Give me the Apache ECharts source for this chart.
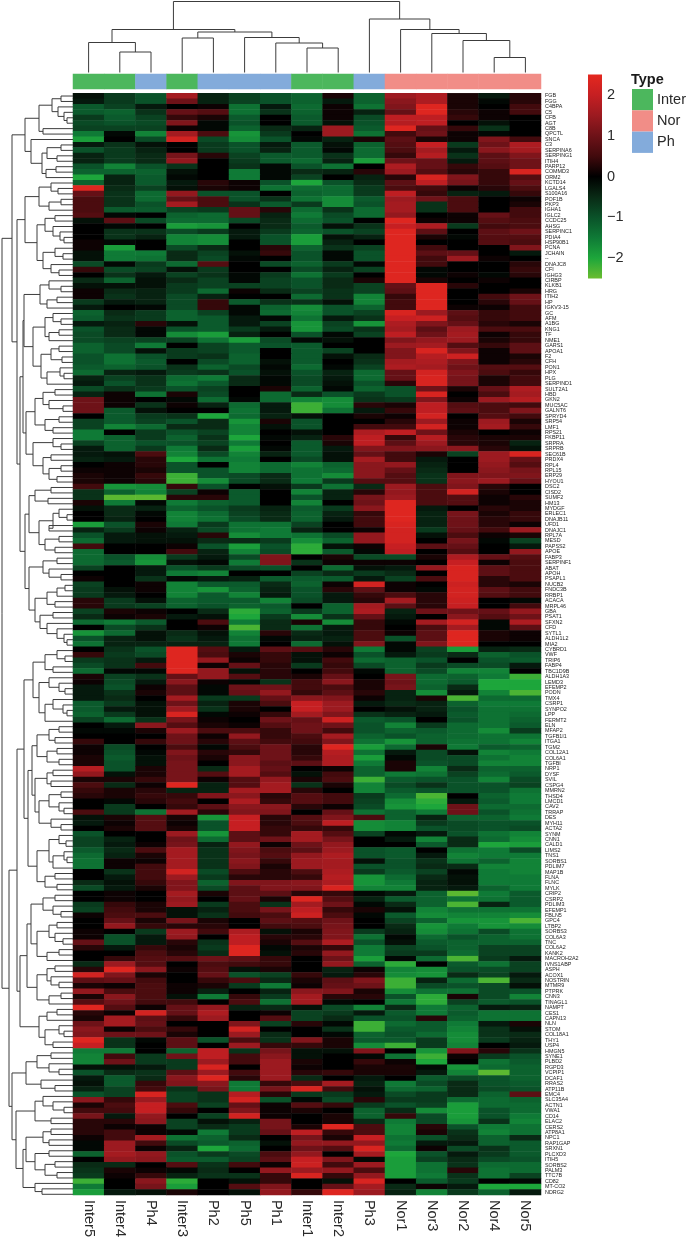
<!DOCTYPE html>
<html>
<head>
<meta charset="utf-8">
<title>Heatmap</title>
<script src="https://cdn.jsdelivr.net/npm/echarts@6/dist/echarts.min.js"></script>
<style>
	html, body { margin: 0; padding: 0; background: #fff; }
	#chart { width: 688px; height: 1240px; }
</style>
</head>
<body>
<div id="chart"></div>
<script>
const sampleNames = ["Inter5","Inter4","Ph4","Inter3","Ph2","Ph5","Ph1","Inter1","Inter2","Ph3","Nor1","Nor3","Nor2","Nor4","Nor5"];
// 0 Inter, 1 Nor, 2 Ph
const sampleTypes = [0,0,2,0,2,2,2,0,0,2,1,1,1,1,1];
const typeNames = ["Inter","Nor","Ph"];
const rampColors = ["#6ABD2F", "#1DA63B", "#0F7A36", "#0A5229", "#092A15", "#000000", "#420A0D", "#6E1218", "#9C1A20", "#C61F22", "#E4281F"];
const geneNames = ["FGB","FGG","C4BPA","C5","CFB","AGT","C8B","QPCTL","SNCA","C3","SERPINA6","SERPING1","ITIH4","PARP12","COMMD3","ORM2","KCTD14","LGALS4","S100A16","POF1B","PKP3","IGHA1","IGLC2","CCDC25","AHSG","SERPINC1","PDIA4","HSP90B1","PCNA","JCHAIN","--","DNAJC8","CFI","IGHG3",
	"CIRBP","KLKB1","HRG","ITIH2","HP","IGKV3-15","GC","AFM","A1BG","KNG1","TF","NME1","GARS1","APOA1","F2","CFH","PON1","HPX","PLG","SERPIND1","SULT2A1","HBD","GKN2","MUC5AC","GALNT6","SPRYD4","SRP54","LMF1","RPS21","FKBP11","SRPRA","SRPRB","SEC61B","PRDX4",
	"RPL4","RPL15","ERP29","HYOU1","DSC2","CISD2","SUMF2","HM13","MYDGF","ERLEC1","DNAJB11","UFD1","DNAJC1","RPL7A","MESD","PAPSS2","APOE","FABP3","SERPINF1","ABAT","APOH","PSAPL1","NUCB2","FNDC3B","RRBP1","ACACA","MRPL46","GBA","PSAT1","SFXN2","CFD","SYTL1","ALDH1L2","MIA2","CYBRD1",
	"VWF","TRIP6","FABP4","TBC1D9B","ALDH1A3","LEMD3","EFEMP2","PODN","TMX4","CSRP1","SYNPO2","LPP","FERMT2","ELN","MFAP2","TGFB1I1","ITGA1","TGM2","COL12A1","COL6A1","TGFBI","NRP1","DYSF","SVIL","CSPG4","MMRN2","THSD4","LMCD1","CAV2","TRRAP","DES","MYH11","ACTA2","SYNM",
	"CNN1","CALD1","LIMS2","TNS1","SORBS1","PDLIM7","MAP1B","FLNA","FLNC","MYLK","CRIP2","CSRP2","PDLIM3","EFEMP1","FBLN5","GPC4","LTBP2","SORBS3","COL6A3","TNC","COL6A2","KANK2","MACROH2A2","IVNS1ABP","ASPH","ACOX1","NOSTRIN","MTMR9","PTPRK","CNN3","TINAGL1","NAMPT","CES1","CAPN13",
	"NLN","STOM","COL18A1","THY1","USP4","HMGN5","SYNE1","PLBD2","RGPD3","VCPIP1","DCAF1","RRAS2","ATP11B","EMC4","SLC35A4","ACTN1","VWA1","CD14","ELAC2","CERS2","ATP8A1","NPC1","RAP1GAP","SRXN1","PLCXD3","ITIH5","SORBS2","PALM3","TTC7B","CD82","MT-CO2","NDRG2"];

// one line per gene, columns in the order of sampleNames
const heatValues = [
	[-.2,-.7,-1,1.6,-.4,-.8,-1,-1.2,.2,-1.2,1.5,1.7,.2,-.3,.3],
	[-.3,-.7,-1,1,-.4,-.8,-1,-1.2,-.3,-1.2,1.3,1.7,.2,-.1,.3],
	[-1.1,-.8,-.3,0,.1,-1.4,-.3,-1.3,.1,-1.4,1.2,2.4,.2,0,.5],
	[-1.1,-1.2,-.6,.9,.7,-1.4,-.6,-1.2,.1,-.4,.9,2.4,.3,.1,.5],
	[-.7,-1.1,-.8,.4,.2,-1.1,0,-1.1,.1,-.9,1.9,1.9,.4,.1,0],
	[-.9,-1,-.9,1.2,-.1,-1,0,-1.1,-.2,-1,1.8,1.9,0,-.2,0],
	[-.8,-.8,-.8,.1,-.1,-1.2,-.5,-.4,1.5,-1.1,2.4,.9,.4,-.6,0],
	[-1.5,-.1,-1.6,1.6,.6,-1.8,-.7,0,1.5,-1.4,.5,1,.1,-.1,0],
	[-1.9,0,-.9,2.2,-.9,-1.7,-1,-.1,-.4,.2,.8,.2,.1,1.2,.5],
	[-.3,-.6,-.2,0,-.7,-1,-.3,-1.1,-.2,-1.2,.7,2,-.7,1,1.7],
	[-1,-.7,-.4,0,-.7,-1,-.4,-1.1,-.1,-1.3,.6,1.6,-.3,1.3,1.6],
	[-.4,-.7,-.5,1.1,.3,-.8,-1.1,-1.1,-.6,-1.3,.4,1.8,-.6,.8,1.2],
	[-.4,-.7,-.5,1.4,0,-.7,-1.1,-1.3,-.4,-1.9,1,.9,-.3,.8,1],
	[-1,-1.6,-1,-.6,0,-.6,-.1,-1,-1.4,0,1.7,.9,.4,.7,1],
	[-1.2,-1.2,-1.2,-.2,0,-1.5,-.1,-.5,-.4,.3,1.5,.7,.3,.4,2.3],
	[-2,-.4,-1.1,-.1,0,-1.5,-.1,-.8,0,-.4,.3,2.3,1.2,.4,.7],
	[-1.2,-.4,-1.1,-.3,.3,.1,-1,-2,-1,-.5,.8,1.9,1.1,.4,.9],
	[2.4,-.5,-.8,-.2,.2,.1,-1.4,-1.3,-1.3,-.7,.6,.5,.1,.3,.6],
	[.9,-.6,-1.3,1.4,-1,-1,0,-1.2,-1.3,-.7,1.9,.4,-.4,-.3,.4],
	[.6,-.6,-1.3,.9,.6,-1,-.6,-1.4,-1.7,-1.1,1.5,1,.6,0,.1],
	[.6,-.6,-1,1.6,.6,-.6,-1.1,-.7,-1.7,-1,1.6,-.6,.6,0,.2],
	[.6,-1.1,-1.1,-.8,-.7,.9,.3,-1.3,-.6,-1.3,1.6,-.6,.6,0,.5],
	[.7,-.1,0,-1.2,-1.3,.9,-.4,-1.5,-.9,-1.3,1.4,0,.1,.9,.5],
	[-.2,.8,-.9,-1.3,-1.3,-.9,-.5,-1.3,-1,0,2.4,.1,.1,.7,.6],
	[0,-.1,0,-1.9,-1.8,0,-.5,-1.1,-.2,-.6,2,1.7,-.7,.5,.6],
	[0,-.6,-.6,-.9,-.7,-.3,-.7,-1.2,-1,-.8,2.4,.8,0,.8,1],
	[0,-.6,-.4,-1.6,-1.7,-.3,-1,-1.9,-.2,-.4,2.4,.2,-.1,.7,.7],
	[.1,-.1,0,-1.6,-1.7,0,-1,-1.9,-.4,0,2.4,0,0,.7,.6],
	[.1,-1.9,0,-.9,-.5,0,.3,-1.2,-.6,-.8,2.4,.5,0,0,1.2],
	[-.2,-1.5,-1.5,-.5,-.8,-.2,.4,-1,-.1,-1,2.4,.8,.9,0,-.3],
	[-.2,-1.5,-1.4,-.5,-.9,-.1,0,-1,-.1,-1,2.4,.5,1.5,.1,0],
	[-.9,-.1,-.7,-1.3,.7,0,-.9,-1.2,-.7,-.1,2.4,.5,0,0,.3],
	[.4,-.9,-.8,-.2,-.7,0,0,-.9,-.4,-.8,2.4,-.1,0,0,.4],
	[0,-.6,-.3,-.8,-.6,-.1,-.7,-1.4,-.7,0,2.4,-.1,.1,-.1,.3],
	[-.5,-1.2,-.2,-.5,-.8,-.1,-.8,-1,-.5,.2,2.4,.2,0,.1,0],
	[-.2,-.2,-.2,-.7,-.8,-.8,-.8,-1,-.5,-.8,.9,2.4,.3,0,0],
	[.1,-.5,-.4,-.7,-1.3,.1,-.5,-.8,-.6,-.8,.8,2.4,0,0,.2],
	[.1,-.6,-.4,-.9,-.4,0,0,-1.3,-.6,-1.6,.4,2.4,0,.5,1],
	[-.7,-.3,-.4,-.9,.4,-1.1,-.6,-.6,-.2,-1.6,.5,2.4,0,.3,.9],
	[-.3,0,-.1,-.9,.4,-.1,-1.2,-1.7,-1,-1.2,.5,2.4,.1,.1,.5],
	[-1.2,-.5,-.7,-1.2,-.8,-.1,-1.3,-1.6,-1,-.8,2.3,1.5,.8,.4,.5],
	[-1.1,-.6,-.7,-1.2,-1.1,-.3,-.1,-1.4,-.3,-.6,2,2.1,.7,.4,.5],
	[-.3,-.4,.3,-.2,-1.1,-.3,-.8,-1.8,-.8,-1.8,1.7,1.2,.9,.3,.2],
	[-1,-.5,-.1,-1,-1.1,-.7,-.3,-1.8,-.9,-.6,1.6,.8,1.5,.6,.6],
	[-.9,-.5,-.1,-1.7,-1.9,-.4,0,-1,-.1,-.8,1.9,1,1.6,.1,.4],
	[-.9,-.8,-.8,-.8,-1.4,-1.9,-.9,-.1,-.2,0,1.2,1.4,1.5,.2,.4],
	[-1.2,-.9,-1.5,0,-.8,-1.1,-1,-1.1,0,0,1.5,1.6,.7,.4,.8],
	[-1.2,-.9,-.2,-.7,-.8,-1.1,0,-1.1,-.8,0,1.2,2.3,1.2,.1,.8],
	[-1,-1.4,-1,-.7,-.6,-1.2,0,-1.1,-.2,-.5,1.2,1.8,2.1,.1,.2],
	[-1,-1.4,-1.1,0,-.9,-1.2,-.2,-1.1,0,-.6,1.6,1.7,1.2,.1,.3],
	[-1.1,-1.2,-1,-.6,-1.2,-.9,-.1,-1.3,-.1,-.8,1.7,1.6,1,.7,.7],
	[-1.3,-.4,-.3,-.7,-.6,-1,-.2,-1,-.4,-1.3,.9,2.2,1.2,.6,.4],
	[-.4,-.8,-.6,-1.3,-1.5,-.5,-.1,-.9,-.3,-1.3,.9,2.3,1.1,.2,.5],
	[-.3,-1,-.6,-1.4,-1.1,-.5,-.1,-.9,-.2,-1,.3,2.3,1.1,.2,.5],
	[-.9,-.6,-.7,-1,-.8,0,.2,-1.2,-.1,-1.2,-1,1,.2,.9,1.7],
	[-.4,.1,-1.4,.2,-.9,0,-1.3,-.5,-1,-.7,-1,2.3,0,.6,1.6],
	[1,.1,0,-.1,-1.3,-.1,-1.3,-1.6,-1.7,-.6,-.7,1.2,.1,1.5,1.8],
	[1,.1,-.6,.1,-.4,-1.3,-.3,-2.2,-1.7,.3,.2,1.9,.7,.6,.5],
	[1,-1.1,-.2,0,0,-1.4,-.3,-2.2,-1.4,-.3,.4,1.9,.8,.6,1.2],
	[0,-1.1,-.7,-.6,-2,-1.3,-.4,-.2,0,.2,.1,2.2,0,.7,.5],
	[-.8,-1.1,-.8,-1,-.5,-1.8,.2,-1,0,0,.3,1.5,.1,1.5,.2],
	[-.8,-1.6,-1.3,-.5,-.5,-1.6,-.2,-1,0,.5,.5,2.2,.1,1.6,.4],
	[-1.5,0,-.7,-1,-.8,-1.6,0,-.2,0,1.7,1.9,1,.2,0,.1],
	[-1.5,-1.2,-.7,-1.2,-.6,-2,-.1,-.4,.3,1.9,.4,1.8,.3,.2,.2],
	[-.8,-1.2,-1,-1,-.8,-1.5,0,-1.1,.2,1.9,.8,1.5,.3,.2,-.4],
	[-.3,-1.2,-.7,-1.5,-.5,-1.9,-.1,-1.1,-.3,1.2,1.2,1.3,1.3,.3,-.2],
	[-.3,-.2,.6,-1.6,-.9,-1.6,-.4,-1.1,-.2,.9,.5,.2,-.8,1.5,2.3],
	[-.4,-.3,.3,-2,-1.4,-1.5,0,-.9,-.2,1.6,.5,-.3,0,1.5,.9],
	[0,.1,.3,-1,0,-1.6,-1.3,-1.6,-1.2,1.3,1.4,-.4,0,1.4,.7],
	[.1,.1,.2,-1,-1,-1.6,-1.3,-1.4,-1.3,1.3,.9,-.5,0,1.3,1.1],
	[.2,.1,.4,-2.2,-1,-.9,-.5,-1.4,-1.7,1.3,.7,-.6,1.2,1.2,1.2],
	[.2,.1,.3,-2.2,-1.7,-.9,-.5,-1.5,-.7,.7,.7,-.6,1.3,1.5,.9],
	[.5,-1.8,-1.7,.4,-1,0,-.2,-.7,-1.4,-.5,1.5,.6,1.2,.3,0],
	[-.6,-1.2,-1.6,-.8,.1,-1.1,0,-1.6,-.4,.3,1.4,.6,2.2,.2,0],
	[-.6,-2.4,-2.4,.3,.3,-1.1,0,-1,-.4,1.1,1.5,.6,.7,.1,.3],
	[.2,-1.5,-.1,-1.5,-1.2,-1.1,0,-1.6,0,1,2.4,.6,.7,.1,.2],
	[-.2,-.5,-.4,-1.2,-1,-.7,-.4,-1.1,-.7,1.3,2.4,-.3,0,.3,.2],
	[0,-.5,-.1,-1.6,-1.3,-.8,-.5,-1.2,-.4,.4,2.4,-.4,1.1,.2,.4],
	[0,-.4,0,-1.6,-1.4,-.9,-.5,-1.2,-.3,.5,2.4,-.4,1,.3,.4],
	[-1.9,-1,.2,-1.5,-.7,-1.4,-1.4,-.8,0,.5,2.3,-.4,1,.3,.1],
	[-.4,-.7,.1,-.4,-.9,-1.4,-1.5,-.4,0,.1,2.2,-.7,.9,.5,1.5],
	[-1,-.3,-.2,-.3,.3,-1.7,-1.5,-1.4,-.9,1.4,2.2,-.2,.6,.1,.2],
	[-1.3,-.3,-.2,-.2,-.5,-.5,-.7,-1.7,-1.2,1.4,2.2,0,1.1,-.1,-.8],
	[.5,0,0,.1,-1,-1.9,-1,-2.1,-.2,.1,2,.8,.9,0,-.3],
	[-1.3,0,0,.5,-.4,-1.6,-.9,-2.1,-1.1,-.1,1.9,0,.7,0,1.4],
	[-1.3,-1,-1.7,-.7,-.3,-.9,1.2,0,.2,-.9,-.9,.2,1.7,.9,.7],
	[-1.3,-1.1,-1.8,-.2,-.1,-1.5,1.2,-.6,.1,.1,.1,0,2,.1,.6],
	[-.8,0,-.3,-1,-.7,-.9,-1,0,-1.3,-.2,-.3,1.4,2.3,.8,.6],
	[0,0,-.3,-1.5,-1.6,0,0,-.8,-.5,-.7,-.5,0,2.3,.8,.6],
	[.1,0,-.6,-.1,-.3,-.4,-1.1,-1.1,-1.1,-.3,-.8,.6,2.3,.3,.6],
	[-.8,0,.1,-1.6,-1.1,-1.1,-.5,-1.2,.1,2.2,.1,0,2.1,.3,.2],
	[-.7,-.2,.1,-1.6,-1.8,-1.2,-.4,-1,.3,.8,.1,-.1,2.2,.8,.5],
	[-.7,-.3,0,-1.6,-1.1,-1.6,-.3,-1,-.3,.4,.6,.3,2.2,.7,.5],
	[.3,-.7,-.2,-1.2,-1.1,-1.1,-1.6,-.9,-.3,.3,1.6,.3,2.1,0,-.1],
	[.3,-.7,-.8,-1.2,-1,-1.2,-1.1,0,-1.2,1.6,.8,.3,2,0,.5],
	[-.8,.2,.1,0,-.5,-2.1,-1.2,-.7,-1.2,1.7,-.4,1,1,.9,1.4],
	[-.5,.1,.2,-.3,-.2,-2,-.7,-1.7,-.6,.9,-.3,0,1.3,.7,1],
	[-1.3,-1.5,-1.1,0,.6,-1.5,-.5,.2,-1.7,.4,-.1,1.6,2.2,-.1,1.7],
	[0,-.9,-.6,0,.1,-2.3,-.5,-1.4,-.3,.4,0,.6,1.6,-.1,.8],
	[-1.8,-1.3,-.2,-.5,-.2,-1.6,.3,-.5,-.3,.6,.1,.8,2.4,.2,.1],
	[-1,-.4,-.2,-.6,-.3,-1.4,-.1,-.4,-.4,.6,-1,.8,2.4,.2,.1],
	[-1.4,-.4,-.4,-.4,-.4,-1.5,0,-1.3,-.2,1.2,-.1,1.2,2.4,0,0],
	[0,-.6,-1,2.4,.7,-.3,.8,.7,.3,-1.5,-.1,-.8,-1.9,-.4,-.5],
	[.4,-.7,-.9,2.4,.6,.2,.4,-.2,.1,-1,-.3,-.7,-.5,-1.2,-1],
	[-.7,-.6,-.3,2.4,1.4,.1,.4,-.2,.5,-1.3,-1.2,-1,0,-1,-1.1],
	[-.9,-.6,.5,2.4,.1,.9,.3,-.7,.4,-.9,-1.2,-.7,-.9,-.9,-.3],
	[-1.3,-.1,-.1,2.4,1.4,-.2,.3,0,.5,-.1,-1.2,-.9,-1.6,-1.6,0],
	[.2,-.8,-.6,.9,1.4,.7,.3,.2,.9,0,1.1,-1.3,-1.2,-1.5,-2.2],
	[.1,-.9,-.3,1.3,.1,-.1,-.6,.5,1.3,.2,1,-1.3,-1.1,-2,-2],
	[-.3,-1,.1,.8,-.1,1,1,.5,.6,.2,1.1,-1.2,-.5,-2,-2],
	[-.3,-.6,.2,.8,-.1,.9,1.4,.4,.8,.3,-.4,-1.7,-.3,-1.6,-2.3],
	[-.3,-.5,0,1.6,-.7,-.7,.9,1.3,1.2,.1,-.4,.2,-2.3,-1.3,-1.3],
	[-1.1,-.7,-.2,1,-.4,.2,.6,2,1.5,-.3,-.5,-.4,-1.2,-1.5,-1.5],
	[-1.1,-.3,-.2,1.5,-.6,.2,0,2,1.5,0,-.2,-.4,-1,-1.4,-1.4],
	[-1.2,-.7,-.2,2.3,-.1,.1,.4,1.6,1.2,-.6,-.4,-.3,-1.1,-1.4,-1.3],
	[-.8,-1.3,-.6,1.1,.1,0,1,.9,2.1,-1.1,-1,0,-1,-1.4,-1.2],
	[0,-.3,1.3,.7,.2,.1,.7,1,1,-1,-1.6,-.7,-1.3,-1.4,-1.1],
	[-.1,-.1,.2,1.5,.6,.6,.4,1,.5,-1,-1.2,-1.1,-1.3,-1.7,-.7],
	[0,0,0,1,.1,1.4,.4,.6,1.6,-1.2,-1,-1.2,-1.3,-1.4,-1.4],
	[.4,0,.4,1,.3,.8,.5,.5,1.2,-1.4,-1.8,-1.2,-1.4,-1.4,-1.6],
	[.1,-.9,0,.6,-.1,.6,1,.3,2.4,-1.9,-1.3,.2,-1.5,-1.1,-1.2],
	[.1,-1,-.1,1.2,.3,.4,1,.3,1.8,-1.4,-.3,-.9,-.2,-1.6,-1.5],
	[.2,-1.1,-.2,1,.2,1.3,1,.4,1.7,-1.9,-.1,-.9,-.9,-1.4,-1.6],
	[.2,-1,-.2,1.1,0,1.3,.8,.8,1.7,-1.5,.2,-1,-.9,-1.6,-1.6],
	[1.8,-1,.2,1.1,-.5,1.6,.9,0,.1,-1.2,.2,-1.6,-.5,-1.2,-1.2],
	[1.4,-.2,.2,1.1,.7,1.6,.7,-.2,.5,-1.2,-1.5,-1.4,-.8,-1.3,-1.1],
	[.2,.2,.4,1.1,.1,.7,1.4,.2,.6,-2.2,-1.1,-1,-1,-1.6,-.9],
	[.6,-.5,.1,2.4,-.4,.7,1.6,-.6,.2,-1.6,-.9,-.6,-1,-1,-.8],
	[.4,.2,.3,-.4,-.4,1.6,1.6,.3,0,-1.6,-1.1,-1,-1,-1,-1.4],
	[.3,.2,.4,.4,1.2,1.3,.3,.7,.5,-.7,-1.3,-2.3,0,-1.2,-1.5],
	[0,-.1,.3,.5,0,1.7,.4,.7,.5,-.8,-1.7,-2.1,-.3,-1.1,-1.5],
	[0,-.7,0,.4,.8,1.3,1.3,.3,.1,-.9,-1.8,-2,1,-1.3,-1.3],
	[.6,-.7,-1.4,1.6,.3,1.2,1.2,0,.9,-1.4,-1.2,-1.5,1,-1,-1.4],
	[-.2,.2,.7,.2,-1.8,2,.3,.7,1.2,.6,-1.2,-.4,-1.2,-1.2,-1.5],
	[-.3,.1,.7,.1,-1,2,.3,.6,1.9,-1.7,-1.6,-.7,-.9,-1,-1],
	[0,.2,.7,.2,-1,2,.4,.4,.4,-1.7,-1.6,-1,-.9,-1,-.9],
	[-1,0,0,1.5,-1.8,.8,.4,1.6,.7,-.8,-.1,-.3,-1,-1.4,-1.6],
	[-.8,-.4,0,1,-1.3,.8,1,1.6,1.1,0,-.3,-1.6,-.5,-1.3,-1.7],
	[-.8,-.3,.1,1.1,-.4,1.4,.1,1,1.4,0,0,-1.1,-.5,-2,-1.9],
	[-1.1,-.5,.6,1.6,-.6,1.2,.6,.8,1.5,-1,-1.1,0,-1.4,-1.5,-.9],
	[-1.3,-.4,.2,1.6,-.6,1.1,.7,1.4,1.7,-1,-1.1,-.3,-1.6,-1.5,-1.5],
	[-1.4,.1,.1,1.6,-.6,1.3,.4,1.5,1.6,-.2,-1,-.6,-1.4,-1.2,-1.6],
	[-1.4,.1,.5,1.6,-.6,1.2,.2,1.5,1.6,-1,-1,-.5,-.5,-1.6,-1.6],
	[0,-.6,.5,2.2,-.9,.6,.3,.6,1.7,-.7,-1.1,-.8,-.1,-1.5,-1.6],
	[0,-.3,.5,1.5,-.7,.3,.3,.4,1.8,-1.8,-1.3,-.5,-.2,-1.5,-1.5],
	[-.5,-.2,.4,1.2,-1.2,1.2,1.2,1.3,1.7,-1.8,-1.5,-.4,-.2,-1.5,-1.5],
	[-.9,-.3,.2,1.2,-.9,.8,1.2,1.2,2.3,-1.6,-1.6,-.4,-.3,-1.2,-1.5],
	[0,.1,0,1.6,.2,.8,.8,.3,.4,-.1,-.3,-1.2,-2.4,-1.5,-1.1],
	[0,.1,0,1.4,0,.9,.2,2.4,.7,-.4,-1.1,-1.2,-1.4,-1.4,-1.1],
	[-.7,.4,.2,1.5,-.7,.6,-.6,1.6,1,-.1,-.5,-1.2,-2.3,-.4,-1.1],
	[-.8,.5,.2,-.2,-.4,.6,1.1,1.9,.4,.2,-.2,-1.6,-1.4,-1.4,-1.4],
	[.1,.6,.6,-.2,-.6,.5,.6,2.1,.6,-.1,-1.1,-1.7,-1.6,-1.6,-1.7],
	[0,.9,.2,1.1,.2,0,.8,.7,1,0,-.8,-1.2,-1.8,-1.8,-2.3],
	[0,1.4,.4,.3,.3,0,.5,.6,1.1,0,-.5,-1.8,-1.5,-1.8,-1.7],
	[.1,0,-.7,1.5,.5,1.7,-.2,.2,1.2,-.7,-.4,-1.7,-1.4,-.9,-1.4],
	[.1,-1,-.3,1.4,0,1.9,.3,.3,1.2,-1.4,-.1,-1.3,-1,-1.2,-1.4],
	[.9,-1,-.3,.3,-.6,1.9,.2,.7,1.7,-1,-.2,-1.1,-1.2,-1.2,-1.2],
	[.3,-.3,.4,.2,-.7,2.4,-.1,.2,.4,-1.5,-.8,-1,-1.2,-.8,-.8],
	[0,0,.6,.3,-.5,2.4,-.2,.3,1.4,-1.5,-.7,-.7,-1.3,-.8,-.8],
	[0,.4,.7,.7,1,.8,.4,0,1,-1.9,-.1,-1.3,-2.3,-.7,-.3],
	[-.5,1.5,.7,0,.6,.5,.4,0,1.4,-1.2,-2.1,0,-1.1,-1.4,-.8],
	[.3,2.4,1.3,.1,.7,-.2,.2,0,-.4,.1,-1.6,-1.7,-1,-.9,-.8],
	[2.2,1.2,.2,0,.9,-1,-.8,.4,-.3,.3,-1.7,-1.8,-.5,-.8,-.3],
	[.8,.9,.5,0,.4,.6,-.5,.2,.8,1.2,-2.2,-.4,-1.3,-2.3,-.5],
	[.2,.1,.6,.1,.2,-.7,-1.5,.1,.9,1,-2.2,-.9,-1,-.9,-.2],
	[1.4,.6,.6,.1,-.4,0,-.4,1.3,1.2,.2,-1.7,-1.4,-1.4,-.9,-1],
	[.2,1.3,.6,-.2,-1.5,.4,-.7,1.6,.3,.3,-1,-2.1,.2,-.9,-1.6],
	[.7,1,.5,.5,0,.6,-1.4,1.6,-.1,0,-1.5,-2.1,-.8,-1.1,-1],
	[2.4,.7,.1,.9,1.4,-.4,-.5,-.2,-.9,-1.6,-.5,-1.5,-1.2,-.3,-.4],
	[.3,.1,2.2,.9,1.7,0,.1,-.8,-.7,-.3,-1.1,-1.5,-1.1,-1.4,-1.4],
	[.2,1.6,.8,.4,1.5,0,.7,-.8,-.5,-1,-1,.3,-1.2,-1.4,-1.4],
	[1,1.6,.9,0,0,1.2,-.8,.3,-.1,-2.2,-1.3,-1.1,-1.5,-.3,.2],
	[1.3,.1,.6,.4,0,2.2,0,0,-.6,-2.2,-1.1,-1.1,-1.6,-.6,-.2],
	[1.2,1,1,.2,0,1.5,-.5,0,-.1,-1.2,-1,-1.3,-1.7,-.6,-.5],
	[2.4,-.6,-.1,.8,-1,.6,-.6,1.2,.2,-1.1,-1.1,-.7,-1.7,-.7,-.4],
	[2,-.6,0,.8,0,1.5,.4,.4,.2,-1.7,-2.2,-.7,-1.6,0,-.3],
	[-1.5,-1.5,0,-1.2,1.9,-.6,1.1,-.2,-.2,1.2,0,-1.8,1.2,.3,-.6],
	[-1.6,.5,-.7,1,1.9,.5,1.3,-.2,0,-.1,-1.4,-2.2,.1,-.7,-1],
	[-1.6,1,-.7,-.7,1.5,.5,1.5,.2,0,.4,.1,-2,0,-1.4,-1.1],
	[-.2,-.2,-.3,-.7,2.3,0,1.5,.1,0,.2,.2,-.1,-1.8,-1.3,-1.2],
	[-1,-.5,-.6,.8,1.5,.5,1.5,.3,.4,.2,.2,-.3,-1.6,-2.4,-1.2],
	[-.3,-1.1,-.5,1.3,2.4,.3,1.5,-.5,0,-.3,0,-1.1,-.9,-1,-1.2],
	[-.2,-1.1,.4,1.2,1.3,-1.5,.4,.6,1.6,-.4,-1.5,-.9,-.5,-1,-1.1],
	[-.4,-.8,.5,-.6,1.1,-1.5,1.1,2.3,.5,-.2,-1.3,-1.2,-.5,-.9,-1],
	[-1,-.8,2.3,-.8,-.6,1.8,.3,-.7,-.7,-.3,-.9,-.7,-.5,-1.2,.8],
	[1.3,.4,1.5,-.8,-.6,2.2,-1,-.1,-.9,.3,-.7,-.7,-1.3,-1.3,-1.2],
	[.2,.6,2,.6,-.8,.9,.1,.7,.4,-.7,-1,-.8,-1.9,-1.3,-1.3],
	[.5,.5,2,.4,0,1.2,.1,.2,0,-1.2,-.5,-1.7,-1.9,-1,-1.3],
	[1.1,-.3,1.4,0,-.8,2.2,.1,0,.2,-1.2,.4,-.9,-1.9,-1,-1.5],
	[.3,.3,1.3,-.8,-.2,-.4,1.1,0,.2,-.5,-1.5,-.9,-1.8,-.6,-1.6],
	[.3,.1,.1,-.8,-.5,-.7,1.1,.2,2.4,.6,-1.6,.3,-1,-1.5,-1.4],
	[.3,.5,.1,-.1,-1.5,-.7,.9,1.9,.4,.6,-1.6,.2,-.6,-1.6,-1.4],
	[.1,.5,1.6,-1.4,-1.2,-.5,0,1.1,.2,2,-1.4,-1,-.5,-1.2,-.5],
	[-.1,1.5,.5,-.9,-1.1,-1.2,-.2,1.4,1.4,1.4,-1.5,-.3,-.3,-1.2,-1.1],
	[-.1,1.5,.1,-.4,-2,-1.3,0,1,.7,2.3,-1.3,.1,-.9,-.6,-1.1],
	[-1.2,1.6,1.4,-1,-.7,-.9,.6,1.4,0,1.6,-2,-1,-.3,-.7,-1.1],
	[0,1.4,1.3,-1.1,-1.1,-.8,.8,2,1.2,-.1,-1.9,-.8,-.5,-.9,-1],
	[-.5,-.5,0,.7,-.6,.5,.1,2.1,.5,1.5,-1.9,-1.4,-.6,-1.3,-1.3],
	[-.6,.2,.1,-.1,-.5,0,1.4,1.5,1.4,.6,-1.9,-1.4,.3,-1.4,-1.3],
	[-.7,.1,.4,-.4,-.6,-.6,.4,2.3,.4,1.4,-1.9,-1.5,-.6,-1.4,-.8],
	[-2.2,0,1.3,-2.1,0,-.2,.4,0,-.2,2.3,0,-1.1,-.7,0,-.1],
	[-1.5,0,1.1,-1.9,0,.7,1.2,0,.9,1.6,-.5,.1,-.3,-2,-2],
	[-1.9,-.3,-.2,.2,0,-.2,1.4,.4,2.4,1.5,-.4,-1.6,-.7,-1.2,-.3]
];

// dendrograms: [height, left, right], a plain number is a leaf index
const colTree = [71,[43,[30,0,[20.5,1,2]],[40.5,[34.5,3,4],[35,5,[29.5,6,[24.5,7,8]]]]],[53.5,9,[43,10,[39,11,[32,12,[15,13,14]]]]]];
const treeTop = [48,
	[34,[21,[12,0,1],[15,2,[9,3,[6,4,5]]]],[30,6,7]],
	[42,8,[31,[26,[12,9,10],[16,11,12]],[27,[17,13,14],15]]]];
const treeMidA = [48,
	[34,[22,16,[15,17,18]],[24,[12,19,20],21]],
	[36,[28,[18,22,23],[20,24,[13,25,[9,26,27]]]],[30,[18,28,[10,29,30]],[22,31,[14,32,33]]]]];
const treeMidB = [49,
	[33,[24,34,[12,35,36]],[26,[16,37,38],39]],
	[40,[28,[20,40,[12,41,42]],[24,[14,43,44],45]],[32,[22,[14,46,47],[11,48,49]],[26,[13,50,[9,51,52]],53]]]];
const treeMidC = [47,
	[38,[30,[18,54,55],[24,56,[10,57,58]]],[28,[14,59,60],[20,61,62]]],
	[40,[20,63,[12,64,65]],[30,[22,66,67],[24,[12,68,69],[16,70,71]]]]];
const treeMidD = [48,
	[44,[38,[22,72,73],[25,74,75]],[34,[20,[14,76,[6,77,78]],[24,79,80]],[28,[14,81,82],[18,83,84]]]],
	[44,[30,[16,85,86],[24,87,[12,88,89]]],[38,[26,[16,[8,90,91],92],[18,93,94]],[33,[20,95,96],[26,97,[16,98,[9,99,[6,100,101]]]]]]]];
const treeLowA = [49,
	[40,[28,[16,102,[8,103,104]],[20,105,106]],[34,[24,107,[14,108,[8,109,110]]],[28,[20,111,[10,112,[6,113,114]]],115]]],
	[45,[41,[36,[24,[14,116,117],[18,118,119]],[26,[16,120,121],[14,122,123]]],
		[38,[26,[20,124,125],[22,126,127]],[34,[24,[12,128,129],[14,130,[9,131,132]]],[22,133,[12,134,135]]]]],
		[36,[24,[14,136,[7,137,138]],[20,[9,139,[6,140,141]],142]],[28,[18,143,144],[16,145,146]]]]];
const treeLowB = [53,
	[46,[42,[30,[18,147,148],[20,149,[12,150,151]]],[36,[24,[16,152,153],[18,154,[10,155,156]]],[26,[14,157,158],159]]],
		[36,[26,[18,160,161],[22,162,[14,163,164]]],[24,[12,165,166],167]]],
	[34,[26,[16,168,169],170],[28,[14,171,[9,172,173]],[20,174,175]]]];
const treeLowC = [61,
	[47,[36,[22,176,177],[24,178,[14,179,180]]],[32,181,[18,182,183]]],
	[57,[38,[30,184,[20,185,[9,186,187]]],[22,188,189]],
		[50,[47,[30,[22,190,191],[24,192,193]],[38,[24,194,195],[28,[18,196,197],[16,198,199]]]],[38,200,[31,201,202]]]]];
const rowTree = [71,
	[61,treeTop,[56,treeMidA,[53,[50,treeMidB,treeMidC],treeMidD]]],
	[64,[56,treeLowA,treeLowB],treeLowC]];

const heatLeft = 73, heatTop = 93.3, heatWidth = 468, heatHeight = 1103.7;
const fontName = '"Liberation Sans", Arial, sans-serif';

// turn a nested tree into one [h0, p0, h, p1, h1] record per merge
function flattenTree(node, links) {
	if (typeof node === "number") return { h: 0, p: node };
	let a = flattenTree(node[1], links);
	let b = flattenTree(node[2], links);
	links.push([a.h, a.p, node[0], b.p, b.h]);
	return { h: node[0], p: (a.p + b.p) / 2 };
}
let rowLinks = [];
let colLinks = [];
flattenTree(rowTree, rowLinks);
flattenTree(colTree, colLinks);

function treeShape(pts) {
	return {
		type: "polyline",
		shape: { points: pts },
		style: { fill: null, stroke: "#3c3c3c", lineWidth: 1 },
		silent: true
	};
}
function renderRowLink(params, api) {
	let h0 = api.value(0), p0 = api.value(1), h = api.value(2), p1 = api.value(3), h1 = api.value(4);
	return treeShape([api.coord([h0, p0]), api.coord([h, p0]), api.coord([h, p1]), api.coord([h1, p1])]);
}
function renderColLink(params, api) {
	let h0 = api.value(0), p0 = api.value(1), h = api.value(2), p1 = api.value(3), h1 = api.value(4);
	return treeShape([api.coord([p0, h0]), api.coord([p0, h]), api.coord([p1, h]), api.coord([p1, h1])]);
}
// colour bar, same ramp as the cells, square ends
function renderColorBar(params, api) {
	let top = api.coord([0, api.value(2)]);
	let bottom = api.coord([1, api.value(1)]);
	let stops = rampColors.map(function (c, i) {
		return { offset: 1 - i / (rampColors.length - 1), color: c };
	}).reverse();
	return {
		type: "rect",
		shape: { x: top[0], y: top[1], width: bottom[0] - top[0], height: bottom[1] - top[1] },
		style: { fill: new echarts.graphic.LinearGradient(0, 0, 0, 1, stops) },
		silent: true
	};
}

let heatData = [];
heatValues.forEach(function (row, r) {
	row.forEach(function (v, c) {
		heatData.push([c, r, v]);
	});
});
let typeData = sampleTypes.map(function (t, c) {
	return [c, 0, t];
});

let option = {
	animation: false,
	title: {
		text: "Type",
		left: 631,
		top: 72,
		padding: 0,
		textStyle: { fontFamily: fontName, fontSize: 14.5, fontWeight: "bold", color: "#1a1a1a" }
	},
	grid: [
		{ left: heatLeft, top: heatTop, width: heatWidth, height: heatHeight },
		{ left: 0, top: heatTop, width: heatLeft, height: heatHeight },
		{ left: heatLeft, top: 0, width: heatWidth, height: 72.5 },
		{ left: heatLeft, top: 74, width: heatWidth, height: 15 },
		{ left: 588, top: 74.5, width: 14, height: 204 }
	],
	xAxis: [
		{
			type: "category", gridIndex: 0, data: sampleNames,
			axisLine: { show: false }, axisTick: { show: false },
			axisLabel: { rotate: -90, margin: 5, interval: 0, fontFamily: fontName, fontSize: 14.5, color: "#2a2a2a" }
		},
		{ type: "value", gridIndex: 1, min: 0, max: 73, inverse: true, show: false },
		{ type: "value", gridIndex: 2, min: -.5, max: 14.5, show: false },
		{ type: "category", gridIndex: 3, data: sampleNames, show: false },
		{ type: "value", gridIndex: 4, min: 0, max: 1, show: false }
	],
	yAxis: [
		{
			type: "category", gridIndex: 0, data: geneNames, inverse: true, position: "right",
			axisLine: { show: false }, axisTick: { show: false },
			axisLabel: { margin: 4, interval: 0, fontFamily: fontName, fontSize: 5.4, color: "#222" }
		},
		{ type: "value", gridIndex: 1, min: -.5, max: 202.5, inverse: true, show: false },
		{ type: "value", gridIndex: 2, min: 0, max: 72.5, show: false },
		{ type: "category", gridIndex: 3, data: ["Type"], show: false },
		{
			type: "value", gridIndex: 4, min: -2.5, max: 2.5, position: "right",
			axisLine: { show: false }, axisTick: { show: false }, splitLine: { show: false },
			axisLabel: {
				margin: 5, customValues: [-2, -1, 0, 1, 2],
				fontFamily: fontName, fontSize: 14.5, color: "#2a2a2a",
				formatter: function (v) { return String(v).replace("-", "\u2212"); }
			}
		}
	],
	visualMap: [
		{
			type: "continuous", seriesIndex: 0, min: -2.5, max: 2.5, show: false,
			inRange: { color: rampColors }
		},
		{
			type: "piecewise", seriesIndex: 1, left: 632, top: 89, padding: 0,
			itemWidth: 21, itemHeight: 21.3, itemGap: 0, textGap: 4, itemSymbol: "rect",
			selectedMode: false, hoverLink: false, align: "left", inverse: true,
			textStyle: { fontFamily: fontName, fontSize: 14.5, color: "#2a2a2a" },
			pieces: [
				{ value: 0, label: typeNames[0], color: "#4CB75D" },
				{ value: 1, label: typeNames[1], color: "#F18D87" },
				{ value: 2, label: typeNames[2], color: "#83ABDB" }
			]
		}
	],
	series: [
		{ type: "heatmap", xAxisIndex: 0, yAxisIndex: 0, data: heatData, progressive: 0, emphasis: { disabled: true } },
		{ type: "heatmap", xAxisIndex: 3, yAxisIndex: 3, data: typeData, progressive: 0, emphasis: { disabled: true } },
		{ type: "custom", xAxisIndex: 1, yAxisIndex: 1, data: rowLinks, renderItem: renderRowLink, clip: false, progressive: 0 },
		{ type: "custom", xAxisIndex: 2, yAxisIndex: 2, data: colLinks, renderItem: renderColLink, clip: false, progressive: 0 },
		{ type: "custom", xAxisIndex: 4, yAxisIndex: 4, data: [[0, -2.5, 2.5]], renderItem: renderColorBar, clip: false }
	]
};

let chart = echarts.init(document.getElementById("chart"), null, { renderer: "canvas" });
chart.setOption(option);
</script>
</body>
</html>
